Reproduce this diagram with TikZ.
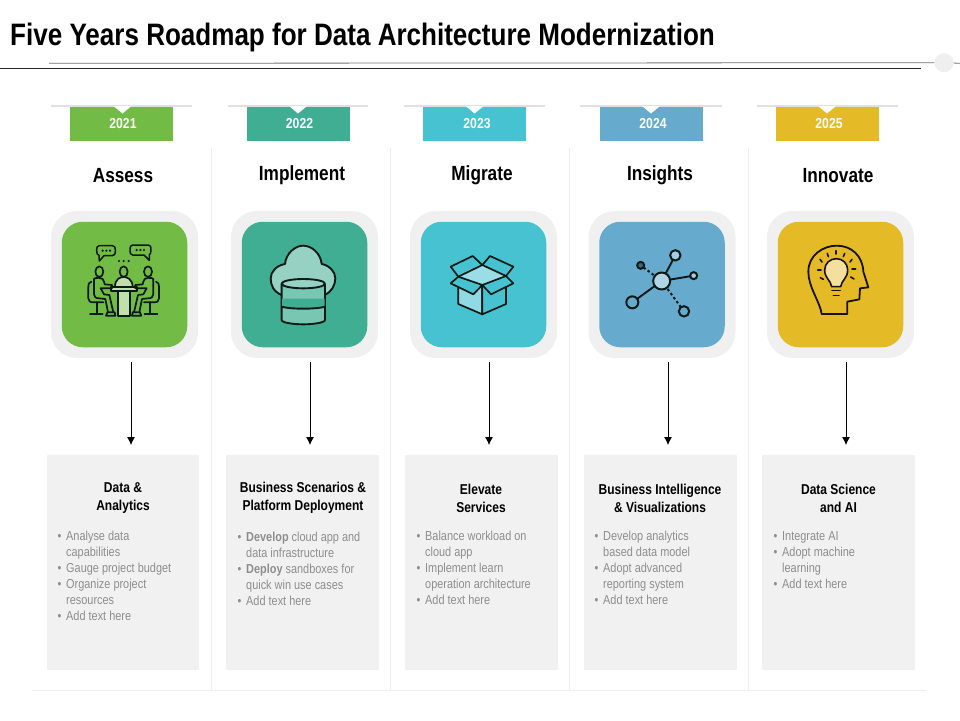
\documentclass[tikz,border=0pt]{standalone}
\usepackage{fontspec}
\setmainfont{Liberation Sans}
\newfontfamily\cfont[FakeStretch=.84]{Liberation Sans}
\newfontfamily\bfont[FakeStretch=.84]{Liberation Sans}
\usetikzlibrary{arrows.meta,calc}
\definecolor{cgreen}{HTML}{72BB44}
\definecolor{cteal}{HTML}{40AE93}
\definecolor{ccyan}{HTML}{47C2D1}
\definecolor{cblue}{HTML}{66ABCE}
\definecolor{cyellow}{HTML}{E5BA27}
\definecolor{panel}{HTML}{F1F1F1}
\definecolor{halo}{HTML}{F0F0F0}
\definecolor{bodygrey}{HTML}{8E8E8E}
\definecolor{faint}{HTML}{EFEFEF}
\definecolor{ink}{HTML}{0B1A16}
\newcommand{\bl}{\makebox[8.5pt][l]{•}}
\newcommand{\hg}{\hspace*{8.5pt}}
\tikzset{
  zm/.style 2 args={x=.33333pt,y=-.33333pt,shift={(#1pt,-#2pt)}},
  zmm/.style 2 args={x=-.33333pt,y=-.33333pt,shift={(#1pt,-#2pt)}},
  yeartab/.style={minimum width=103pt,minimum height=34pt,inner sep=0pt,text=white,font=\cfont\bfseries\fontsize{14.5}{16}\selectfont},
  stage/.style={inner sep=0pt,font=\cfont\bfseries\fontsize{20.5}{22}\selectfont,text=black},
  haloBox/.style={minimum size=147pt,rounded corners=26pt,fill=halo,inner sep=0pt},
  tile/.style={minimum size=125.5pt,rounded corners=21pt,inner sep=0pt},
  panelBox/.style={minimum height=215pt,fill=panel,inner sep=0pt},
  panelHead/.style={align=center,inner sep=0pt,text=black,font=\cfont\bfseries\fontsize{14.3}{18}\selectfont},
  panelBody/.style={align=left,anchor=north west,inner sep=0pt,text=bodygrey,font=\cfont\fontsize{13}{16}\selectfont},
  flow/.style={-{Latex[length=8pt,width=8pt]},line width=.8pt,black},
  sep/.style={faint,line width=.7pt},
  shade/.style={line width=1.8pt,color=black!12},
  icon/.style={draw=ink,line width=1.7pt,line join=round,line cap=round}
}
\newcommand{\personz}{%
  \draw[icon,fill=cgreen] (58,110) ellipse (12 and 16);
  \draw[icon] (42,132) .. controls (42,128) and (72,124) .. (72,140) -- (74,148) -- (96,150) -- (96,160) -- (62,160) -- (72,178) -- (88,180) -- (100,232);
  \draw[icon] (42,132) -- (42,178) .. controls (42,186) and (48,190) .. (58,190) -- (76,192) -- (84,232);
  \draw[icon] (78,242) -- (106,242) -- (104,232) -- (82,232) -- cycle;
  \draw[icon] (34,140) .. controls (26,142) and (25,148) .. (25,155) -- (25,190) .. controls (25,198) and (30,202) .. (40,202) -- (70,202);
  \draw[icon] (52,202) -- (52,235) (30,236) -- (68,236);
}
\begin{document}
\begin{tikzpicture}[x=1pt,y=-1pt]
\useasboundingbox (0,0) rectangle (960,720);
\fill[white] (0,0) rectangle (960,720);

% title
\node[anchor=base west,inner sep=0pt,text=black,font=\bfont\bfseries\fontsize{31}{34}\selectfont] (title) at (10,45) {Five Years Roadmap for Data Architecture Modernization};
\coordinate (ruleAa) at (49,63.3); \coordinate (ruleAb) at (934,63.3);
\coordinate (ruleBa) at (0,68.3);  \coordinate (ruleBb) at (921,68.3);
\coordinate (ruleCb) at (960,63.3);
\node[circle,fill=faint,minimum size=19pt,inner sep=0pt] (dot) at (944,62.7) {};
\draw[line width=.8pt,black!55] (ruleAa) -- (dot);
\draw[line width=.8pt,black!55] (dot) -- (ruleCb);
\draw[line width=.9pt,black!85] (ruleBa) -- (ruleBb);

% separators
\foreach \i/\x in {1/211,2/390,3/569,4/748}{
  \coordinate (sepT\i) at (\x,148); \coordinate (sepB\i) at (\x,690);
  \draw[sep] (sepT\i) -- (sepB\i);
}
\coordinate (baseL) at (32,690); \coordinate (baseR) at (927,690);
\draw[sep] (baseL) -- (baseR);

% columns
\foreach \i/\col/\yr/\tabx/\yrx/\nx/\slx/\slr/\stg/\stgx/\tx/\arx/\bx/\bw/\hx in {
 1/cgreen/2021/121.5/123/122.5/51/192/Assess/123/124.5/131/123/152/123,
 2/cteal/2022/298.5/299.5/298/228/368/Implement/302/304.5/310/302.5/153/303,
 3/ccyan/2023/474.5/477/474.6/404/545/Migrate/482/483.5/489/481.5/153/481,
 4/cblue/2024/651.5/653/651/580/722/Insights/660/662/668/660.5/153/660,
 5/cyellow/2025/827.5/829/827/757/898/Innovate/838/840.5/846/838.5/153/838}{
  \coordinate (shA\i) at (\slx,106); \coordinate (shB\i) at (\slr,106);
  \draw[shade] (shA\i) -- (shB\i);
  \node[yeartab,fill=\col] (tab\i) at (\tabx,124) {};
  \fill[white] (\nx-9,106) -- (\nx+9,106) -- (\nx,113.5) -- cycle;
  \node[inner sep=0pt,text=white,font=\cfont\bfseries\fontsize{14.5}{16}\selectfont] (yr\i) at (\yrx,124) {\yr};
  \node[stage] (stage\i) at (\stgx,175.5) {\stg};
  \node[haloBox] (halo\i) at (\tx,284.5) {};
  \node[tile,fill=\col] (tile\i) at (\tx,284.5) {};
  \node[panelBox,minimum width=\bw pt] (panel\i) at (\bx,562.5) {};
  \coordinate (arS\i) at (\arx,362); \coordinate (arE\i) at (\arx,445);
  \draw[flow] (arS\i) -- (arE\i);
}

% panel headings
\node[panelHead] (h1) at (123,498) {Data \&\\Analytics};
\node[panelHead] (h2) at (303,498) {Business Scenarios \&\\Platform Deployment};
\node[panelHead] (h3) at (481,498) {Elevate\\Services};
\node[panelHead] (h4) at (660,498) {Business Intelligence\\\& Visualizations};
\node[panelHead] (h5) at (838.5,498) {Data Science\\and AI};

% panel bodies
\node[panelBody] (b1) at (57.5,530.5) {\bl Analyse data\\\hg capabilities\\\bl Gauge project budget\\\bl Organize project\\\hg resources\\\bl Add text here};
\node[panelBody] (b2) at (237.5,531.5) {\bl \textbf{Develop} cloud app and\\\hg data infrastructure\\\bl \textbf{Deploy} sandboxes for\\\hg quick win use cases\\\bl Add text here};
\node[panelBody] (b3) at (416.5,530.5) {\bl Balance workload on\\\hg cloud app\\\bl Implement learn\\\hg operation architecture\\\bl Add text here};
\node[panelBody] (b4) at (594.5,530.5) {\bl Develop analytics\\\hg based data model\\\bl Adopt advanced\\\hg reporting system\\\bl Add text here};
\node[panelBody] (b5) at (773.5,531.5) {\bl Integrate AI\\\bl Adopt machine\\\hg learning\\\bl Add text here};

% icon 1: meeting
\begin{scope}[zm={80}{235}]
  \draw[icon,line width=1.5pt] (58,32) -- (97,32) .. controls (103,32) and (106,36) .. (106,47) .. controls (106,58) and (103,62) .. (97,62) -- (72,62) -- (58,78) -- (57,61) .. controls (52,60) and (50,55) .. (50,47) .. controls (50,36) and (52,32) .. (58,32) -- cycle;
  \draw[icon,line width=1.5pt] (158,30) -- (205,30) .. controls (211,30) and (213,35) .. (213,45) .. controls (213,54) and (211,58) .. (208,59) -- (208,76) -- (192,60) -- (158,60) .. controls (152,60) and (150,55) .. (150,45) .. controls (150,35) and (152,30) .. (158,30) -- cycle;
  \foreach \p in {(68,47),(79,47),(90,47),(170,45),(181,45),(192,45),(117,78),(131,78),(146,78)}{\fill[ink] \p circle (1.2pt);}
  \draw[icon,fill=cgreen!45!white] (105,156) .. controls (105,132) and (120,126) .. (131,126) .. controls (142,126) and (157,132) .. (158,156) -- cycle;
  \draw[icon,fill=cgreen] (131,110) ellipse (12 and 16);
  \draw[icon,fill=cgreen!45!white] (113,166) rectangle (149,242);
  \draw[icon,fill=cgreen!45!white] (92,156) rectangle (170,167);
\end{scope}
\begin{scope}[zm={80}{235}]\personz\end{scope}
\begin{scope}[zmm={167.33}{235}]\personz\end{scope}

% icon 2: cloud + database
\begin{scope}[zm={40}{200}]
  \draw[icon,line width=1.9pt,fill=cteal!55!white] (725,285) .. controls (700,275) and (692,255) .. (692,235) .. controls (692,215) and (710,196) .. (735,192) .. controls (738,160) and (765,137) .. (790,137) .. controls (815,137) and (842,160) .. (845,192) .. controls (868,196) and (886,215) .. (886,235) .. controls (886,255) and (875,275) .. (855,285);
  \draw[icon,line width=1.9pt,fill=cteal!70!white] (725,252) -- (725,360) .. controls (725,368) and (760,373) .. (790,373) .. controls (820,373) and (855,368) .. (855,360) -- (855,252) -- cycle;
  \fill[cteal] (726,296) -- (854,296) -- (854,320) .. controls (830,328) and (750,328) .. (726,320) -- cycle;
  \draw[icon,line width=1.9pt] (725,320) .. controls (750,328) and (830,328) .. (855,320);
  \draw[icon,line width=1.9pt,fill=cteal!55!white] (790,251) ellipse (65 and 14);
\end{scope}

% icon 3: open box
\begin{scope}[zm={400}{200}]
  \fill[ccyan!55!white] (175,230) -- (247,195) -- (318,228) -- (247,255) -- cycle;
  \draw[icon,fill=ccyan!60!white] (175,255) -- (247,255) -- (247,343) -- (175,312) -- cycle;
  \draw[icon,fill=ccyan] (318,255) -- (247,255) -- (247,343) -- (318,312) -- cycle;
  \draw[icon,fill=ccyan] (152,200) -- (218,168) -- (247,195) -- (175,230) -- cycle;
  \draw[icon,fill=ccyan] (270,168) -- (340,200) -- (318,228) -- (247,195) -- cycle;
  \draw[icon,fill=ccyan] (175,230) -- (152,250) -- (220,283) -- (247,255) -- cycle;
  \draw[icon,fill=ccyan] (318,228) -- (340,250) -- (273,283) -- (247,255) -- cycle;
\end{scope}

% icon 4: network
\begin{scope}[zm={400}{200}]
  \coordinate (nc) at (785,243);
  \draw[icon,line width=1.9pt] (nc) -- (826,166);
  \draw[icon,line width=1.9pt] (nc) -- (881,227);
  \draw[icon,line width=1.9pt] (nc) -- (697,307);
  \draw[icon,line width=2pt,line cap=butt,dash pattern=on 2.5pt off 2.5pt] (nc) -- (722,196);
  \draw[icon,line width=2pt,line cap=butt,dash pattern=on 2.5pt off 2.5pt] (nc) -- (852,334);
  \draw[icon,line width=2pt,fill=cblue!50!white] (nc) circle (8.5pt);
  \draw[icon,line width=2pt,fill=cblue!60!white] (826,166) circle (5.2pt);
  \draw[icon,line width=2pt,fill=cblue!60!white] (881,227) circle (3.5pt);
  \draw[icon,line width=2pt,fill=cblue!60!black] (722,196) circle (3.5pt);
  \draw[icon,line width=2pt,fill=cblue] (697,307) circle (6pt);
  \draw[icon,line width=2pt,fill=cblue] (852,334) circle (5.2pt);
\end{scope}

% icon 5: head + bulb
\begin{scope}[zm={740}{200}]
  \draw[icon,line width=1.8pt,draw=black!90!cyellow] (245,342) .. controls (240,305) and (205,262) .. (205,215) .. controls (205,165) and (250,137) .. (290,137) .. controls (335,137) and (368,168) .. (370,215) -- (385,262) -- (360,265) -- (358,298) -- (322,305) -- (322,342) -- cycle;
  \draw[icon,line width=1.6pt,draw=black!90!cyellow,fill=cyellow!45!white] (275,260) .. controls (272,240) and (254,235) .. (254,210) .. controls (254,190) and (270,176) .. (289,176) .. controls (308,176) and (323,190) .. (323,210) .. controls (323,235) and (305,240) .. (302,260) -- cycle;
  \draw[icon,line width=1.6pt,draw=black!90!cyellow] (276,272) -- (301,272) (280,287) -- (297,287);
  \foreach \a/\b/\c/\d in {288/152/288/162,262/160/265/170,314/160/310/170,240/178/246/186,336/178/330/186,233/210/243/210,336/207/347/207,241/233/250/238,332/231/342/237}{
    \draw[icon,line width=1.6pt,draw=black!90!cyellow] (\a,\b) -- (\c,\d);
  }
\end{scope}
\end{tikzpicture}
\end{document}
